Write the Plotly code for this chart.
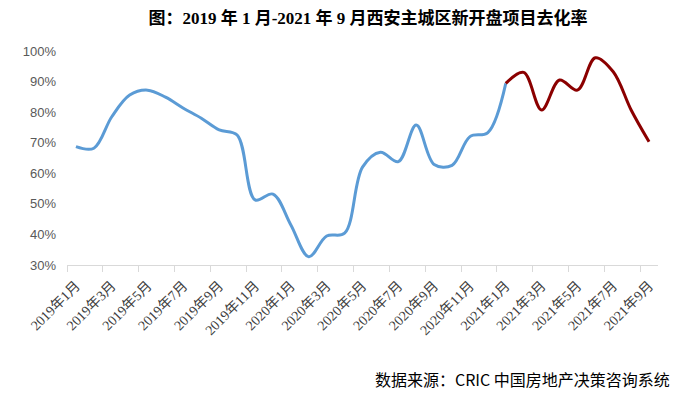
import plotly.graph_objects as go

months = [f"{y}年{m}月" for y in (2019, 2020) for m in range(1, 13)] + [f"2021年{m}月" for m in range(1, 10)]

blue_vals = [68.7, 68.2, 78.5, 85.6, 87.2, 84.9, 81.3, 78.0, 74.2, 72.5,
             51.3, 53.2, 43.1, 32.7, 39.5, 40.4, 62.0, 66.9, 63.8, 75.8,
             62.9, 62.6, 72.0, 73.3, 89.4]
red_vals = [89.4, 93.0, 80.7, 90.5, 87.2, 97.8, 93.2, 80.7, 70.3]

idx = list(range(len(months)))
blue_x = idx[:len(blue_vals)]
red_x = idx[len(blue_vals) - 1:]

tick_pos = [i - 0.5 for i in idx[::2]]
tick_text = months[::2]

W, H = 682, 386  # page body has an 8px margin

fig = go.Figure()
fig.add_trace(go.Scatter(x=blue_x, y=[v / 100 for v in blue_vals], mode="lines",
                         line=dict(color="#5B9BD5", width=3, shape="spline", smoothing=1),
                         showlegend=False, hoverinfo="skip"))
fig.add_trace(go.Scatter(x=red_x, y=[v / 100 for v in red_vals], mode="lines",
                         line=dict(color="#8B0000", width=3, shape="spline", smoothing=1),
                         showlegend=False, hoverinfo="skip"))

fig.update_layout(
    width=W, height=H,
    margin=dict(l=59, r=32, t=43, b=129),
    paper_bgcolor="white", plot_bgcolor="white",
    title=dict(text="<b>图：2019 年 1 月-2021 年 9 月西安主城区新开盘项目去化率</b>",
               x=360 / W, xanchor="center", xref="container",
               y=1 - 10 / H, yanchor="middle", yref="container",
               font=dict(family="Liberation Serif, Noto Sans CJK SC", size=17, color="#000000")),
    xaxis=dict(range=[-0.5, len(months) - 0.5], tickmode="array", tickvals=tick_pos,
               ticktext=tick_text, tickangle=-45, ticklabelshift=9,
               ticks="outside", ticklen=6, tickcolor="#D9D9D9",
               showline=True, linecolor="#D9D9D9", linewidth=1,
               showgrid=False, zeroline=False, automargin=False,
               tickfont=dict(family="Liberation Serif, Noto Sans CJK SC", size=14, color="#404040")),
    yaxis=dict(range=[0.3, 1.0], dtick=0.1, tickformat=".0%",
               showgrid=False, zeroline=False, showline=False, ticks="",
               ticklabelstandoff=10, automargin=False,
               tickfont=dict(family="Liberation Sans", size=13, color="#595959")),
    annotations=[dict(text="数据来源：CRIC 中国房地产决策咨询系统", xref="paper", yref="paper",
                      x=(672 - 67) / 591, y=(265 - 379) / 214, xanchor="right", yanchor="middle",
                      showarrow=False,
                      font=dict(family="Noto Sans CJK SC", size=16, color="#000000"))],
)

fig.write_html("out.html")
